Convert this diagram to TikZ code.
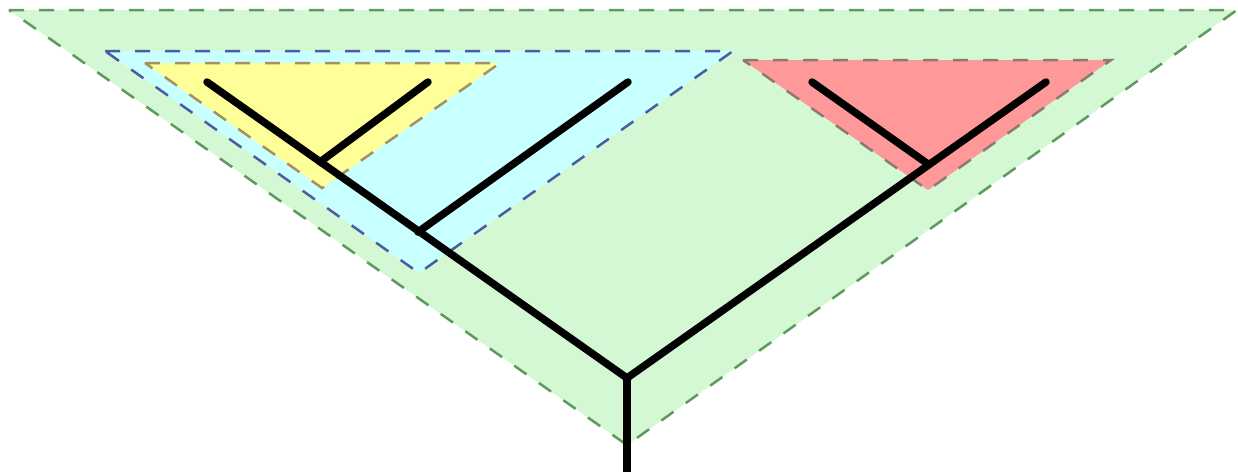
\documentclass[tikz,border=0pt]{standalone}
\usetikzlibrary{calc}
\definecolor{cladeGreen}{HTML}{D3F8D3}
\definecolor{cladeGreenEdge}{HTML}{5E9A5E}
\definecolor{cladeBlue}{HTML}{C8FFFF}
\definecolor{cladeBlueEdge}{HTML}{4A5CA6}
\definecolor{cladeYellow}{HTML}{FFFF99}
\definecolor{cladeYellowEdge}{HTML}{A89060}
\definecolor{cladeRed}{HTML}{FF9999}
\definecolor{cladeRedEdge}{HTML}{8C7A70}
\tikzset{
  clade/.style={line width=0.5pt, dash pattern=on 3pt off 3pt, line join=miter},
  branch/.style={line width=1.5pt, line cap=round, line join=miter},
}
\begin{document}
\begin{tikzpicture}[x=0.2pt, y=-0.2pt]
\useasboundingbox (0,0) rectangle (1238,472);

% clade triangles
\coordinate (gL) at (9,10);   \coordinate (gR) at (1237,10);  \coordinate (gB) at (627,445);
\coordinate (bL) at (105,51); \coordinate (bR) at (733,51);   \coordinate (bB) at (419,273);
\coordinate (yL) at (145,63); \coordinate (yR) at (500,63);   \coordinate (yB) at (322,188);
\coordinate (rL) at (743,60); \coordinate (rR) at (1111,60);  \coordinate (rB) at (928,190);

\filldraw[clade, fill=cladeGreen, draw=cladeGreenEdge] (gL) -- (gR) -- (gB) -- cycle;
\filldraw[clade, fill=cladeBlue, draw=cladeBlueEdge] (bL) -- (bR) -- (bB) -- cycle;
\filldraw[clade, fill=cladeYellow, draw=cladeYellowEdge] (yL) -- (yR) -- (yB) -- cycle;
\filldraw[clade, fill=cladeRed, draw=cladeRedEdge] (rL) -- (rR) -- (rB) -- cycle;

% tree
\coordinate (root) at (627,378);
\coordinate (base) at (627,472);
\coordinate (n1) at (418,232);
\coordinate (n2) at (320,162);
\coordinate (n3) at (928,164);
\coordinate (leafA) at (207,82);
\coordinate (leafB) at (428,82);
\coordinate (leafC) at (628,82);
\coordinate (leafD) at (812,82);
\coordinate (leafE) at (1046,82);

\draw[branch] (leafA) -- (root) -- (leafE);
\draw[branch, line cap=butt] (root) -- (base);
\draw[branch] (n1) -- (leafC);
\draw[branch] (n2) -- (leafB);
\draw[branch] (n3) -- (leafD);
\end{tikzpicture}
\end{document}
